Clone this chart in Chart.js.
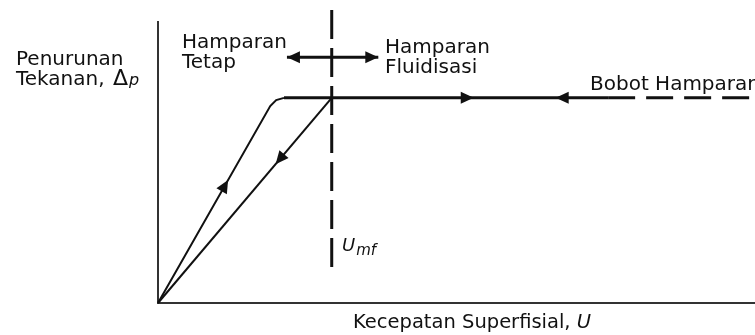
<!DOCTYPE html>
<html><head><meta charset="utf-8">
<script src="https://cdn.jsdelivr.net/npm/chart.js@4/dist/chart.umd.min.js"></script>
<style>html,body{margin:0;padding:0;background:#fff;overflow:hidden}#wrap{width:755px;height:335px;position:relative}</style>
</head><body><div id="wrap"><canvas id="c"></canvas></div>
<script>
// ---- data (arbitrary schematic units: U horizontal, Δp vertical) ----
const axisRangeU = [0, 10];
const axisRangeDp = [0, 10];
const umf = 2.91;                 // minimum fluidisation velocity
const dpBed = 7.3;                // pressure drop = bed weight
// fixed bed, increasing velocity
const risingU  = [0, 1.88, 1.98, 2.11];
const risingDp = [0, 7.01, 7.22, 7.3];
// fixed bed, decreasing velocity
const fallingU  = [2.91, 0];
const fallingDp = [7.3, 0];
// plateau (fluidised bed)
const plateauU  = [2.11, 7.54];
const plateauDp = [7.3, 7.3];
// bed weight reference (dashed)
const bedWeightU  = [7.54, 10];
const bedWeightDp = [7.3, 7.3];
// U_mf marker line
const umfLineU  = [2.91, 2.91];
const umfLineDp = [10.43, 1.17];
// region double arrow
const regionArrowU  = [2.16, 3.69];
const regionArrowDp = [8.75, 8.75];
// arrow heads along curves (U positions)
const risingArrowU = [1.12];
const fallingArrowU = [2.04];
const plateauArrowRightU = [5.18];
const plateauArrowLeftU = [6.77];

const pts = (xs, ys) => xs.map((x, i) => ({x, y: ys[i]}));

const arrowPlugin = {
  id: 'arrows',
  afterDatasetsDraw(chart) {
    const ctx = chart.ctx, xs = chart.scales.x, ys = chart.scales.y;
    const L = 13, W = 6;
    function head(px, py, dx, dy) {
      const n = Math.hypot(dx, dy); dx /= n; dy /= n;
      const bx = px - dx * L, by = py - dy * L;
      ctx.beginPath();
      ctx.moveTo(px, py);
      ctx.lineTo(bx - dy * W, by + dx * W);
      ctx.lineTo(bx + dy * W, by - dx * W);
      ctx.closePath();
      ctx.fill();
    }
    ctx.save();
    ctx.fillStyle = '#111';
    chart.data.datasets.forEach(ds => {
      const d = ds.data;
      const P = d.map(p => [xs.getPixelForValue(p.x), ys.getPixelForValue(p.y)]);
      (ds.arrows || []).forEach(a => {
        for (let i = 0; i < d.length - 1; i++) {
          const lo = Math.min(d[i].x, d[i+1].x), hi = Math.max(d[i].x, d[i+1].x);
          if (a.u >= lo && a.u <= hi) {
            const t = (a.u - d[i].x) / (d[i+1].x - d[i].x);
            const cx = P[i][0] + t * (P[i+1][0] - P[i][0]);
            const cy = P[i][1] + t * (P[i+1][1] - P[i][1]);
            let dx = P[i+1][0] - P[i][0], dy = P[i+1][1] - P[i][1];
            if (a.back) { dx = -dx; dy = -dy; }
            const n = Math.hypot(dx, dy);
            head(cx + dx / n * L / 2, cy + dy / n * L / 2, dx, dy);
            break;
          }
        }
      });
      if (ds.arrowEnds) {
        const m = P.length - 1;
        head(P[0][0], P[0][1], P[0][0] - P[1][0], P[0][1] - P[1][1]);
        head(P[m][0], P[m][1], P[m][0] - P[m-1][0], P[m][1] - P[m-1][1]);
      }
    });
    ctx.restore();
  }
};

const labelPlugin = {
  id: 'labels',
  afterDraw(chart) {
    const ctx = chart.ctx;
    ctx.save();
    ctx.fillStyle = '#111';
    ctx.textBaseline = 'alphabetic';
    ctx.textAlign = 'left';
    const F = '"DejaVu Sans", sans-serif';
    function t(s, x, y, size, italic) {
      ctx.font = (italic ? 'italic ' : '') + size + 'px ' + F;
      ctx.fillText(s, x, y);
      return x + ctx.measureText(s).width;
    }
    t('Penurunan', 16, 65, 20);
    let x = t('Tekanan, ', 16, 85, 20);
    x = t('Δ', x + 2, 85, 22);
    t('p', x + 1, 85, 16, true);
    t('Hamparan', 182, 48, 20);
    t('Tetap', 182, 68, 20);
    t('Hamparan', 385, 53, 20);
    t('Fluidisasi', 385, 73, 20);
    t('Bobot Hamparan', 590, 90, 20);
    x = t('U', 342, 251, 18, true);
    t('mf', x + 1, 255, 15, true);
    x = t('Kecepatan Superfisial, ', 353, 328, 19.5);
    t('U', x, 328, 19.5, true);
    ctx.restore();
  }
};

const line = (data, extra) => Object.assign({
  data, showLine: true, pointRadius: 0, borderColor: '#111', borderWidth: 2,
  fill: false, tension: 0, clip: false
}, extra);

new Chart(document.getElementById('c'), {
  type: 'scatter',
  data: {
    datasets: [
      line(pts(risingU, risingDp), {arrows: risingArrowU.map(u => ({u}))}),
      line(pts(fallingU, fallingDp), {arrows: fallingArrowU.map(u => ({u}))}),
      line(pts(plateauU, plateauDp), {borderWidth: 3,
        arrows: plateauArrowRightU.map(u => ({u})).concat(plateauArrowLeftU.map(u => ({u, back: true})))}),
      line(pts(bedWeightU, bedWeightDp), {borderWidth: 3, borderDash: [27, 11]}),
      line(pts(umfLineU, umfLineDp), {borderWidth: 3, borderDash: [29, 9]}),
      line(pts(regionArrowU, regionArrowDp), {borderWidth: 3, arrowEnds: true})
    ]
  },
  options: {
    responsive: true, maintainAspectRatio: false, animation: false,
    layout: {padding: {left: 158, right: 0, top: 22, bottom: 32}},
    plugins: {legend: {display: false}, tooltip: {enabled: false}},
    scales: {
      x: {type: 'linear', min: axisRangeU[0], max: axisRangeU[1],
          grid: {display: false, drawTicks: false}, ticks: {display: false},
          border: {display: true, color: '#333', width: 2}},
      y: {type: 'linear', min: axisRangeDp[0], max: axisRangeDp[1],
          grid: {display: false, drawTicks: false}, ticks: {display: false},
          border: {display: true, color: '#333', width: 2}}
    }
  },
  plugins: [arrowPlugin, labelPlugin]
});
</script>
</body></html>
